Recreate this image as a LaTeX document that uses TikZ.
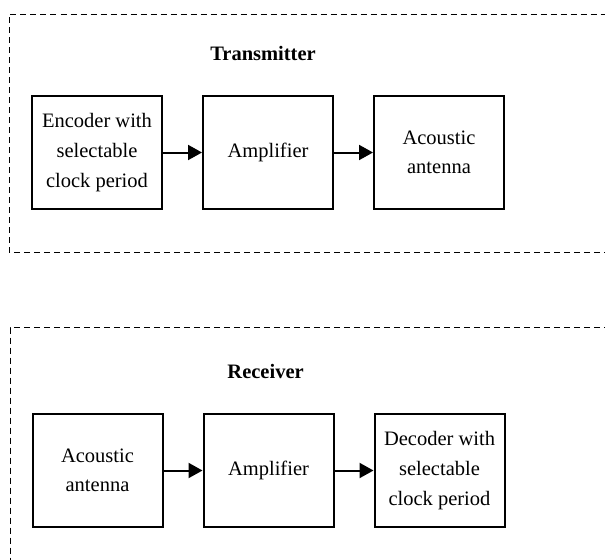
\documentclass[tikz,border=0pt]{standalone}
\usepackage{fontspec}
\setmainfont{Liberation Serif}
\usetikzlibrary{arrows.meta}
\usetikzlibrary{positioning}

\begin{document}
\begin{tikzpicture}[x=1pt,y=1pt]
	\useasboundingbox (0,0) rectangle (302.5,279.5);
	\clip (0,0) rectangle (302.5,279.5);

	% dashed frames, cut off by the page
	\begin{scope}[line width=0.5pt, dash pattern=on 3pt off 2pt]
		\draw (310,153.5) -- (4.5,153.5) -- (4.5,272.25) -- (310,272.25);
		\draw (310,115.65) -- (5,115.65) -- (5,-10);
	\end{scope}

	\begin{scope}[every node/.style={font=\bfseries\fontsize{10.25}{12}\selectfont}]
		\node (tx) at (131.5,253) {Transmitter};
		\node (rx) at (132.8,93.85) {Receiver};
	\end{scope}

	\begin{scope}[node distance=19.5pt,
	              every node/.style={rectangle, draw, line width=1pt, inner sep=0pt,
	                                 minimum width=65pt, minimum height=56.5pt, align=center,
	                                 font=\fontsize{10.25}{14.8}\selectfont}]
		\node (t1) at (48.5,203.25) {Encoder with\\selectable\\clock period};
		\node[right=of t1] (t2) {Amplifier};
		\node[right=of t2] (t3) {Acoustic\\antenna};
		\node (r1) at (48.75,44.25) {Acoustic\\antenna};
		\node[right=of r1] (r2) {Amplifier};
		\node[right=of r2] (r3) {Decoder with\\selectable\\clock period};
	\end{scope}

	\begin{scope}[>={Triangle[length=7pt, width=7.5pt]},
	              every edge/.style={draw=black, line width=1pt, ->}]
		\path (t1) edge (t2);
		\path (t2) edge (t3);
		\path (r1) edge (r2);
		\path (r2) edge (r3);
	\end{scope}
\end{tikzpicture}
\end{document}
